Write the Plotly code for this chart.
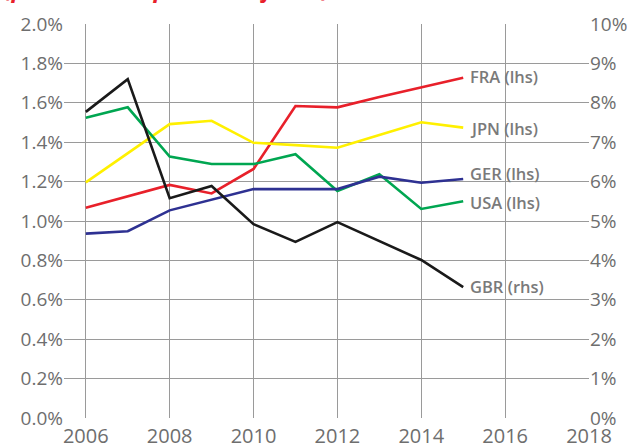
import plotly.graph_objects as go

# données (primes en % du PIB)
years = [2006, 2007, 2008, 2009, 2010, 2011, 2012, 2013, 2014, 2015]
fra = [1.067, 1.125, 1.183, 1.14, 1.264, 1.584, 1.577, 1.63, 1.68, 1.727]
jpn = [1.196, 1.344, 1.492, 1.509, 1.397, 1.385, 1.372, 1.437, 1.501, 1.474]
usa = [1.524, 1.577, 1.327, 1.289, 1.289, 1.339, 1.152, 1.237, 1.061, 1.10]
ger = [0.936, 0.948, 1.054, 1.107, 1.162, 1.162, 1.162, 1.225, 1.194, 1.213]
gbr = [7.77, 8.60, 5.58, 5.89, 4.92, 4.47, 4.97, 4.50, 4.01, 3.32]  # axe de droite

labels = ['FRA (lhs)', 'JPN (lhs)', 'GER (lhs)', 'USA (lhs)', 'GBR (rhs)']

fig = go.Figure()
fig.add_trace(go.Scatter(x=years, y=fra, mode='lines', line=dict(color='#e8202a', width=2.6)))
fig.add_trace(go.Scatter(x=years, y=jpn, mode='lines', line=dict(color='#fff000', width=2.6)))
fig.add_trace(go.Scatter(x=years, y=usa, mode='lines', line=dict(color='#00a651', width=2.6)))
fig.add_trace(go.Scatter(x=years, y=ger, mode='lines', line=dict(color='#2e3192', width=2.6)))
fig.add_trace(go.Scatter(x=years, y=gbr, mode='lines', yaxis='y2', line=dict(color='#1a1a1a', width=2.6)))

# étiquettes au bout des courbes
lab_font = dict(family='Open Sans', size=16.5, color='#7a7a7a', weight=600)
ends = [(fra[-1] + 0.004, 'y'), (jpn[-1] - 0.002, 'y'), (ger[-1] + 0.026, 'y'), (usa[-1] - 0.004, 'y'), (gbr[-1] + 0.03, 'y2')]
for lab, (yv, yr) in zip(labels, ends):
    fig.add_annotation(x=2015.12, y=yv, xref='x', yref=yr, text=lab, showarrow=False,
                       xanchor='left', yanchor='middle', font=lab_font)

# titre coupé en haut
fig.add_annotation(x=-0.118, y=1.046, xref='paper', yref='paper', xanchor='left', yanchor='bottom',
                   text='<b><i>(premiums in per cent of GDP)</i></b>', showarrow=False,
                   font=dict(family='Open Sans', size=23, color='#e8202a'))

tick_font = dict(family='Open Sans', size=19, color='#6e6e6e')
fig.update_layout(
    width=627, height=445,
    margin=dict(l=64, r=38, t=24, b=27),
    plot_bgcolor='white', paper_bgcolor='white',
    showlegend=False,
    xaxis=dict(range=[2005.48, 2018], tickvals=[2006, 2008, 2010, 2012, 2014, 2016, 2018],
               showgrid=True, gridcolor='#9a9a9a', gridwidth=1.3, zeroline=False, automargin=False,
               tickfont=dict(family='Open Sans', size=20, color='#6e6e6e'), ticks='', showline=False,
               ticklabelstandoff=4),
    yaxis=dict(range=[0, 2.0], tickvals=[i * 0.2 for i in range(11)],
               ticktext=['%.1f%%' % (i * 0.2) for i in range(11)], automargin=False,
               showgrid=True, gridcolor='#9a9a9a', gridwidth=1.3, zeroline=False,
               tickfont=tick_font, ticks='', showline=False),
    yaxis2=dict(range=[0, 10], tickvals=list(range(11)), ticktext=['%d%%' % i for i in range(11)],
                overlaying='y', side='right', showgrid=False, zeroline=False, automargin=False,
                tickfont=tick_font, ticks=''),
)

fig.write_html("out.html", config={'displayModeBar': False},
               post_script="document.body.style.margin='0';")
